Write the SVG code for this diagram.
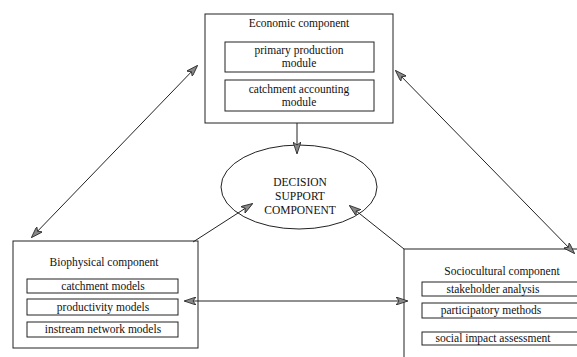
<svg xmlns="http://www.w3.org/2000/svg" width="577" height="357" viewBox="0 0 577 357">
<defs>
<style>
.box{fill:#fff;stroke:#222;stroke-width:1}
.inner{fill:#fff;stroke:#222;stroke-width:1}
.t{font-family:"Liberation Serif",serif;font-size:11.5px;fill:#111;text-anchor:middle}
.c{stroke:#222;stroke-width:1;fill:none}
</style>
<marker id="ah" viewBox="0 0 12 8" refX="11" refY="4" markerWidth="12" markerHeight="8" markerUnits="userSpaceOnUse" orient="auto-start-reverse">
<path d="M0,0 L12,4 L0,8 L3,4 Z" fill="#888" stroke="#222" stroke-width="0.8"/>
</marker>
</defs>
<rect width="577" height="357" fill="#fff"/>
<g id="economic">
<rect class="box" x="205" y="14" width="188" height="109"/>
<text class="t" x="299" y="27">Economic component</text>
<rect class="inner" x="225" y="42" width="149" height="30"/>
<text class="t" x="299" y="54">primary production</text>
<text class="t" x="299" y="67">module</text>
<rect class="inner" x="225" y="80" width="149" height="31"/>
<text class="t" x="299" y="93">catchment accounting</text>
<text class="t" x="299" y="106">module</text>
</g>
<g id="decision">
<ellipse class="box" cx="299" cy="187" rx="78" ry="42"/>
<text class="t" x="300" y="186">DECISION</text>
<text class="t" x="300" y="200">SUPPORT</text>
<text class="t" x="300" y="214">COMPONENT</text>
</g>
<g id="biophysical">
<rect class="box" x="13" y="241" width="185" height="107"/>
<text class="t" x="104" y="266">Biophysical component</text>
<rect class="inner" x="27" y="279" width="151" height="14"/>
<text class="t" x="103" y="290">catchment models</text>
<rect class="inner" x="27" y="299" width="151" height="16"/>
<text class="t" x="103" y="311">productivity models</text>
<rect class="inner" x="27" y="322" width="151" height="15"/>
<text class="t" x="103" y="333">instream network models</text>
</g>
<g id="sociocultural">
<rect class="box" x="404" y="249" width="190" height="120"/>
<text class="t" x="502" y="275">Sociocultural component</text>
<rect class="inner" x="422" y="282" width="160" height="14"/>
<text class="t" x="493" y="293">stakeholder analysis</text>
<rect class="inner" x="422" y="303" width="160" height="15"/>
<text class="t" x="491" y="314">participatory methods</text>
<rect class="inner" x="422" y="332" width="160" height="13"/>
<text class="t" x="493" y="342">social impact assessment</text>
</g>
<g id="connectors">
<line class="c" x1="32" y1="237" x2="197" y2="66" marker-start="url(#ah)" marker-end="url(#ah)"/>
<line class="c" x1="574" y1="253" x2="396" y2="71" marker-start="url(#ah)" marker-end="url(#ah)"/>
<line class="c" x1="297" y1="123" x2="297" y2="153" marker-end="url(#ah)"/>
<line class="c" x1="193" y1="242" x2="252" y2="204" marker-end="url(#ah)"/>
<line class="c" x1="404" y1="249" x2="350" y2="206" marker-end="url(#ah)"/>
<line class="c" x1="185" y1="301" x2="407" y2="301" marker-start="url(#ah)" marker-end="url(#ah)"/>
</g>
</svg>
